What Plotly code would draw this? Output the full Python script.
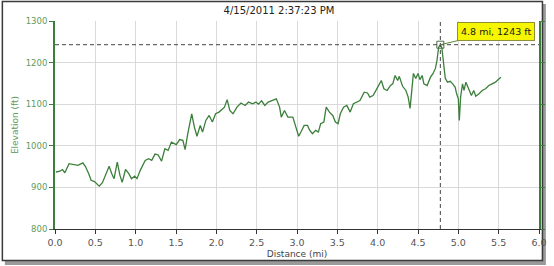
import plotly.graph_objects as go

title_text = "4/15/2011 2:37:23 PM"
distance_mi = [0.012, 0.061, 0.094, 0.122, 0.174, 0.223, 0.284, 0.345, 0.378, 0.418,
               0.448, 0.488, 0.516, 0.549, 0.589, 0.638, 0.671, 0.704, 0.732, 0.772,
               0.805, 0.833, 0.874, 0.915, 0.948, 0.988, 1.016, 1.057, 1.118, 1.159,
               1.199, 1.240, 1.280, 1.321, 1.362, 1.402, 1.443, 1.504, 1.545, 1.585,
               1.613, 1.646, 1.695, 1.728, 1.760, 1.801, 1.829, 1.870, 1.911, 1.951,
               1.991, 2.033, 2.073, 2.101, 2.134, 2.167, 2.207, 2.256, 2.305, 2.357,
               2.399, 2.451, 2.491, 2.521, 2.561, 2.601, 2.643, 2.695, 2.744, 2.784,
               2.805, 2.845, 2.887, 2.948, 2.988, 3.021, 3.049, 3.089, 3.130, 3.159,
               3.191, 3.232, 3.265, 3.293, 3.333, 3.362, 3.402, 3.443, 3.476, 3.509,
               3.537, 3.577, 3.618, 3.659, 3.699, 3.740, 3.780, 3.833, 3.874, 3.902,
               3.943, 3.984, 4.012, 4.045, 4.077, 4.118, 4.159, 4.187, 4.216, 4.248,
               4.268, 4.309, 4.350, 4.378, 4.402, 4.430, 4.443, 4.472, 4.500, 4.524,
               4.552, 4.573, 4.613, 4.655, 4.687, 4.716, 4.735, 4.756, 4.777, 4.796,
               4.817, 4.838, 4.866, 4.899, 4.930, 4.960, 4.979, 5.000, 5.012, 5.028,
               5.052, 5.070, 5.094, 5.122, 5.162, 5.191, 5.216, 5.256, 5.296, 5.338,
               5.378, 5.418, 5.460, 5.509, 5.528]
elevation_ft = [937, 939, 943, 935, 957, 955, 953, 959, 950, 933,
                917, 914, 909, 903, 912, 933, 951, 933, 921, 961,
                929, 912, 943, 933, 921, 927, 921, 941, 965, 969,
                965, 980, 978, 963, 993, 989, 1009, 1003, 1015, 1013,
                991, 1029, 1077, 1045, 1023, 1049, 1033, 1061, 1073, 1057,
                1077, 1081, 1089, 1093, 1111, 1085, 1077, 1093, 1103, 1097,
                1105, 1101, 1105, 1100, 1108, 1097, 1105, 1109, 1113, 1093,
                1069, 1085, 1069, 1069, 1045, 1023, 1033, 1049, 1049, 1037,
                1029, 1037, 1033, 1053, 1057, 1093, 1081, 1073, 1057, 1053,
                1077, 1093, 1097, 1081, 1101, 1105, 1109, 1129, 1127, 1117,
                1121, 1135, 1145, 1157, 1137, 1133, 1145, 1149, 1169, 1157,
                1167, 1143, 1133, 1117, 1090, 1141, 1174, 1162, 1174, 1159,
                1169, 1149, 1145, 1165, 1174, 1186, 1205, 1237, 1243, 1235,
                1198, 1162, 1153, 1155, 1149, 1141, 1125, 1113, 1061, 1117,
                1149, 1133, 1153, 1141, 1121, 1133, 1119, 1125, 1133, 1137,
                1145, 1149, 1153, 1162, 1165]
x_ticks = [0.0, 0.5, 1.0, 1.5, 2.0, 2.5, 3.0, 3.5, 4.0, 4.5, 5.0, 5.5, 6.0]
x_tick_labels = ["0.0", "0.5", "1.0", "1.5", "2.0", "2.5", "3.0", "3.5", "4.0", "4.5", "5.0", "5.5", "6.0"]
y_ticks = [800, 900, 1000, 1100, 1200, 1300]
sel_distance = 4.777
sel_elevation = 1243
sel_label = "4.8 mi, 1243 ft"

GREEN = "#3b7f3b"
TICK_GREEN = "#5e9a5e"
FONT = "DejaVu Sans"

W, H = 554, 266
L, R, T, B = 55, 7, 21, 37
pw = W - L - R
ph = H - T - B

def px_x(p):
    return (p - L) / pw

def px_y(p):
    return (H - B - p) / ph

fig = go.Figure()

fig.add_trace(go.Scatter(
    x=distance_mi, y=elevation_ft, mode="lines",
    line=dict(color=GREEN, width=1.3), hoverinfo="skip", showlegend=False,
))

fig.add_trace(go.Scatter(
    x=[sel_distance], y=[sel_elevation], mode="markers",
    marker=dict(symbol="square-open", size=7, color="#4a6a4a", line=dict(width=1)),
    hoverinfo="skip", showlegend=False,
))

shapes = [
    # shadow
    dict(type="rect", xref="paper", yref="paper", layer="below",
         x0=px_x(4), x1=px_x(554), y0=px_y(4), y1=px_y(265),
         fillcolor="#9a9a9a", line=dict(width=0)),
    # frame
    dict(type="rect", xref="paper", yref="paper", layer="below",
         x0=px_x(1.5), x1=px_x(550.5), y0=px_y(1.5), y1=px_y(260.5),
         fillcolor="white", line=dict(color="#3a3a3a", width=1.5)),
    # crosshair
    dict(type="line", xref="x", yref="y", x0=0, x1=6, y0=sel_elevation, y1=sel_elevation,
         line=dict(color="#444444", width=1, dash="4px,3px")),
    dict(type="line", xref="x", yref="y", x0=sel_distance, x1=sel_distance, y0=800, y1=1300,
         line=dict(color="#444444", width=1, dash="4px,3px")),
]

fig.update_layout(
    width=W, height=H,
    margin=dict(l=L, r=R, t=T, b=B),
    paper_bgcolor="white", plot_bgcolor="rgba(0,0,0,0)",
    font=dict(family=FONT, size=9, color="#555555"),
    title=dict(text=title_text, x=(W / 2 + 2) / W, xanchor="center", y=1 - 10.5 / H, yanchor="middle",
               font=dict(family=FONT, size=10, color="#222222")),
    shapes=shapes,
    xaxis=dict(
        range=[0, 6], tickvals=x_ticks, ticktext=x_tick_labels,
        showgrid=True, gridcolor="#d9d9d9", gridwidth=1,
        showline=True, linecolor="#333333", linewidth=1.2,
        ticks="outside", ticklen=4, tickcolor="#333333",
        tickfont=dict(family=FONT, size=9.5, color="#555555"),
        title=dict(text="Distance (mi)", standoff=4, font=dict(family=FONT, size=9, color="#444444")),
        zeroline=False, fixedrange=True,
    ),
    yaxis=dict(
        range=[800, 1300], tickvals=y_ticks,
        showgrid=True, gridcolor="#d9d9d9", gridwidth=1,
        showline=True, linecolor=GREEN, linewidth=2, mirror="ticks",
        ticks="outside", ticklen=4, tickcolor=GREEN,
        tickfont=dict(family=FONT, size=8.5, color=TICK_GREEN),
        title=dict(text="Elevation (ft)", standoff=6, font=dict(family=FONT, size=9, color=TICK_GREEN)),
        zeroline=False, fixedrange=True,
    ),
    annotations=[dict(
        x=sel_distance, y=sel_elevation, xref="x", yref="y",
        text=sel_label, showarrow=True, arrowhead=0, arrowwidth=1, arrowcolor="#5a8a3a",
        ax=56, ay=-13, bgcolor="#f6f600", bordercolor="#8f8f3a", borderwidth=1, borderpad=3,
        font=dict(family=FONT, size=9.5, color="#222222"),
    )],
)

fig.write_html("out.html")
